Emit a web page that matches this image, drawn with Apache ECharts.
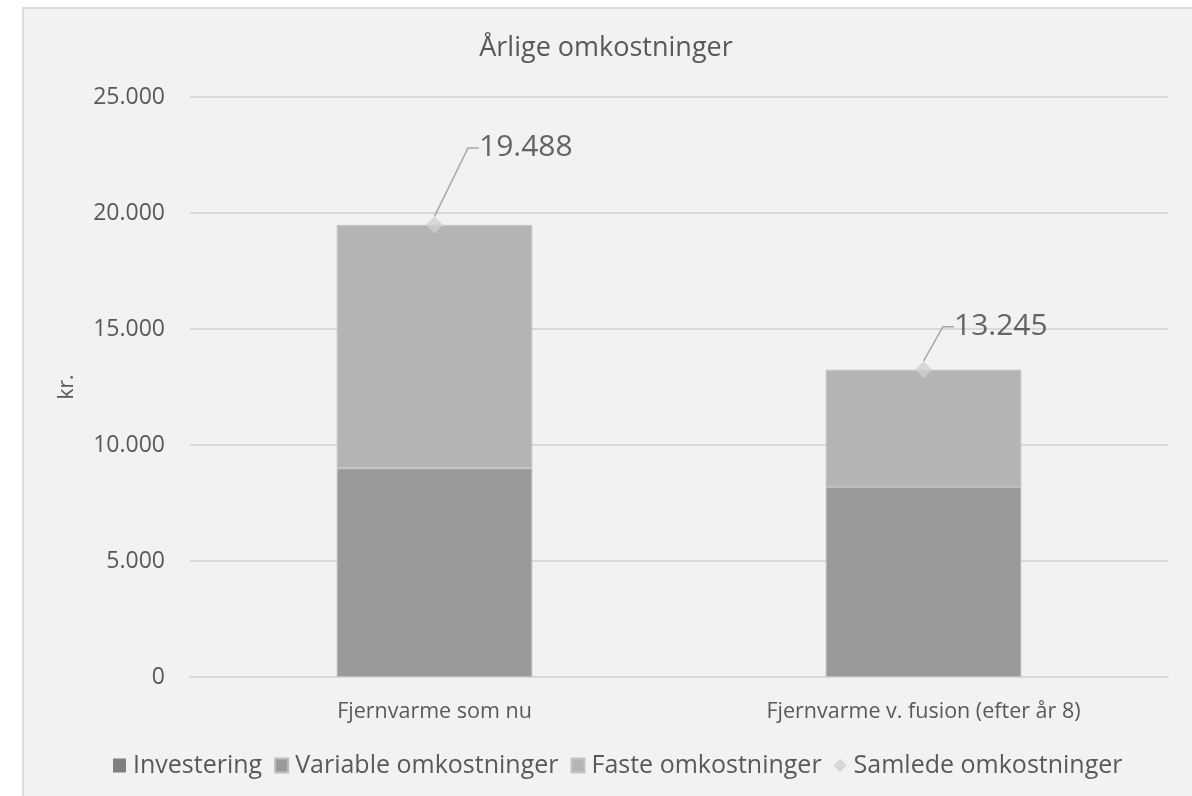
<!DOCTYPE html>
<html>
<head>
<meta charset="utf-8">
<script src="https://cdn.jsdelivr.net/npm/echarts@6/dist/echarts.min.js"></script>
<style>
  html, body { margin: 0; padding: 0; background: #fff; overflow: hidden; width: 1192px; height: 796px; }
  #panel { position: absolute; left: 22px; top: 7px; width: 1200px; height: 820px; background: #f2f2f2; border-left: 2px solid #dcdcdc; border-top: 2px solid #dcdcdc; box-sizing: border-box; }
  #chart { position: absolute; left: 22px; top: 7px; width: 1168px; height: 789px; }
</style>
</head>
<body>
<div id="panel"></div>
<div id="chart"></div>
<script>
// data
let categories = ['Fjernvarme som nu', 'Fjernvarme v. fusion (efter år 8)'];
let investering = [0, 0];
let variable = [9000, 8190];
let faste = [10488, 5055];
let samlede = [19488, 13245];

let fontName = '"Open Sans", sans-serif';
let textColor = '#595959';

function fmt(v) {
  return String(v).replace(/\B(?=(\d{3})+(?!\d))/g, '.');
}

let chart = echarts.init(document.getElementById('chart'));
let option = {
  animation: false,
  textStyle: { fontFamily: fontName },
  title: {
    text: 'Årlige omkostninger',
    left: 'center',
    top: 23,
    textStyle: { color: textColor, fontSize: 27, fontWeight: 'normal', fontFamily: fontName }
  },
  legend: {
    left: 86,
    top: 741,
    itemWidth: 13,
    itemHeight: 14,
    itemGap: 12,
    textStyle: { color: textColor, fontSize: 25, fontFamily: fontName, padding: [0, 0, 0, 2] },
    data: [
      { name: 'Investering', icon: 'rect' },
      { name: 'Variable omkostninger', icon: 'rect' },
      { name: 'Faste omkostninger', icon: 'rect' },
      { name: 'Samlede omkostninger', icon: 'diamond' }
    ]
  },
  grid: { left: 168, top: 90, width: 978, height: 580 },
  xAxis: {
    type: 'category',
    data: categories,
    axisTick: { show: false },
    axisLine: { lineStyle: { color: '#d9d9d9', width: 2 } },
    axisLabel: { color: textColor, fontSize: 21.5, margin: 24, fontFamily: fontName }
  },
  yAxis: {
    type: 'value',
    min: 0,
    max: 25000,
    interval: 5000,
    name: 'kr.',
    nameLocation: 'middle',
    nameRotate: 90,
    nameGap: 112,
    nameTextStyle: { color: textColor, fontSize: 21, fontFamily: fontName },
    axisLine: { show: false },
    axisTick: { show: false },
    axisLabel: { color: textColor, fontSize: 23, margin: 25, formatter: fmt, fontFamily: fontName },
    splitLine: { lineStyle: { color: '#d9d9d9', width: 2 } }
  },
  series: [
    {
      name: 'Investering',
      type: 'bar',
      stack: 'total',
      barWidth: '40%',
      itemStyle: { color: '#7f7f7f' },
      data: investering
    },
    {
      name: 'Variable omkostninger',
      type: 'bar',
      stack: 'total',
      barWidth: '40%',
      itemStyle: { color: '#9a9a9a', borderColor: '#bdbdbd', borderWidth: 1 },
      data: variable
    },
    {
      name: 'Faste omkostninger',
      type: 'bar',
      stack: 'total',
      barWidth: '40%',
      itemStyle: { color: '#b4b4b4', borderColor: '#c4c4c4', borderWidth: 1 },
      data: faste
    },
    {
      name: 'Samlede omkostninger',
      type: 'scatter',
      symbol: 'diamond',
      symbolSize: 17,
      itemStyle: { color: '#d0d0d0' },
      z: 5,
      label: {
        show: true,
        position: 'right',
        distance: 0,
        padding: [0, 0, 0, 9],
        color: '#404040',
        fontSize: 30,
        fontFamily: fontName,
        formatter: p => fmt(p.value)
      },
      labelLine: {
        show: true,
        length2: 11,
        lineStyle: { color: '#a6a6a6', width: 1.5 }
      },
      labelLayout: function (params) {
        if (params.dataIndex === 0) {
          return { dx: 27, dy: -77 };
        }
        return { dx: 13, dy: -43 };
      },
      data: samlede
    }
  ]
};
chart.setOption(option);
</script>
</body>
</html>
